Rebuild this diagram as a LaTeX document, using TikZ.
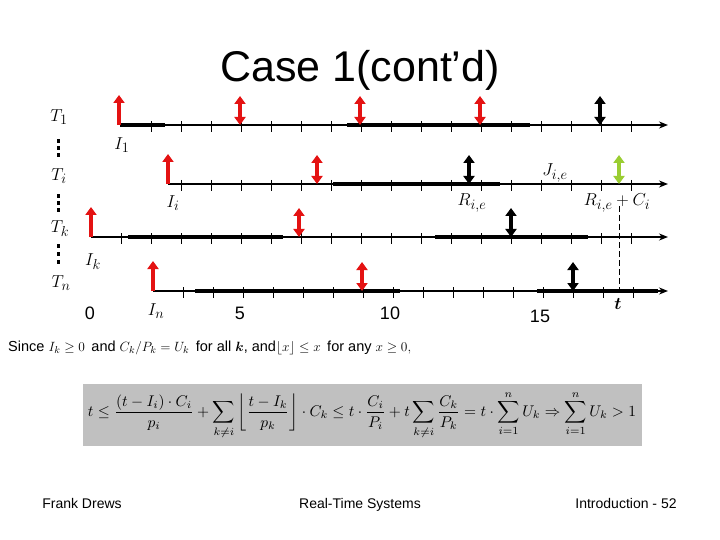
\documentclass[tikz,border=0pt]{standalone}
\usepackage{fontspec}
\setmainfont{Liberation Sans}
\usepackage{amsmath,amssymb}
\usetikzlibrary{arrows.meta}
\definecolor{relred}{RGB}{228,18,18}
\definecolor{relgreen}{RGB}{154,205,50}
\definecolor{fbox}{RGB}{192,192,192}
\begin{document}
\begin{tikzpicture}[x=1pt,y=-1pt,
  axis/.style={line width=2.3pt,-{Stealth[length=9pt,width=7pt]}},
  busy/.style={line width=3.2pt},
  tk/.style={line width=0.9pt},
  relarrow/.style={line width=3.6pt,relred,-{Triangle[length=8pt,width=11pt]}},
  dblarrow/.style={line width=3.6pt,{Triangle[length=8pt,width=11pt]}-{Triangle[length=8pt,width=11pt]}},
  lbl/.style={inner sep=0pt,font=\fontsize{19}{19}\selectfont},
  num/.style={inner sep=0pt,anchor=base,font=\fontsize{18}{18}\selectfont},
  foot/.style={inner sep=0pt,anchor=base,font=\fontsize{14}{14}\selectfont},
  vdot/.style={fill=black}
]
\useasboundingbox (0,0) rectangle (720,540);

% title
\node[inner sep=0pt,anchor=base,font=\fontsize{43}{43}\selectfont] (title) at (360,82) {Case 1(cont’d)};

% task labels
\node[lbl] (T1) at (59,117) {$T_1$};
\node[lbl] (Ti) at (59,176) {$T_i$};
\node[lbl] (Tk) at (60,229) {$T_k$};
\node[lbl] (Tn) at (61,283) {$T_n$};
\foreach \y in {141,148,155, 196,203,210, 246,254,262}
  \fill[vdot] (56.5,\y-1.6) rectangle (59.5,\y+1.6);

% timelines
\coordinate (s1) at (120,125); \coordinate (e1) at (668,125);
\coordinate (s2) at (168,184); \coordinate (e2) at (668,184);
\coordinate (s3) at (91,237);  \coordinate (e3) at (668,237);
\coordinate (s4) at (153,291); \coordinate (e4) at (668,291);

\draw[axis] (s1) -- (e1);
\draw[axis] (s2) -- (e2);
\draw[axis] (s3) -- (e3);
\draw[axis] (s4) -- (e4);

\draw[busy] (120,125) -- (165,125);
\draw[busy] (347,125) -- (530,125);
\draw[busy] (333,184) -- (500,184);
\draw[busy] (128,237) -- (283,237);
\draw[busy] (435,237) -- (588,237);
\draw[busy] (195,291) -- (400,291);
\draw[busy] (537,291) -- (658,291);

\foreach \x in {151,181,...,631} \draw[tk] (\x,121) -- (\x,132);
\foreach \x in {181,211,...,631} \draw[tk] (\x,180) -- (\x,191);
\foreach \x in {121,151,...,631} \draw[tk] (\x,233) -- (\x,244);
\foreach \x in {183,213,...,633} \draw[tk] (\x,287) -- (\x,298);

% dashed marker
\draw[dash pattern=on 6pt off 3pt,line width=0.8pt] (619,206) -- (619,294);

% release arrows
\draw[relarrow] (119,125) -- (119,95);
\draw[relarrow] (168,184) -- (168,154);
\draw[relarrow] (91,237) -- (91,207);
\draw[relarrow] (153,291) -- (153,261);

% deadline/release double arrows
\foreach \x in {240,360,480} \draw[dblarrow,relred] (\x,125) -- (\x,96);
\draw[dblarrow,black] (600,125) -- (600,96);
\draw[dblarrow,relred] (317,184) -- (317,155);
\draw[dblarrow,black] (469,184) -- (469,155);
\draw[dblarrow,relgreen] (619,184) -- (619,155);
\draw[dblarrow,relred] (299,237) -- (299,208);
\draw[dblarrow,black] (511,237) -- (511,208);
\draw[dblarrow,relred] (362,291) -- (362,262);
\draw[dblarrow,black] (573,291) -- (573,262);

% point labels
\node[lbl] (I1) at (122,145) {$I_1$};
\node[lbl] (Ii) at (173,203) {$I_i$};
\node[lbl] (Ik) at (93,262) {$I_k$};
\node[lbl] (In) at (156,311) {$I_n$};
\node[lbl] (Jie) at (555,173) {$J_{i,e}$};
\node[lbl] (Rie) at (472,203) {$R_{i,e}$};
\node[lbl] (RC) at (617,203) {$R_{i,e}+C_i$};
\node[lbl] (tt) at (618,304) {$\boldsymbol{t}$};

% axis numbers
\node[num] (n0) at (90,319) {0};
\node[num] (n5) at (240,319) {5};
\node[num] (n10) at (390,319) {10};
\node[num] (n15) at (540,322) {15};

% since line
\node[inner sep=0pt,anchor=west] (since) at (8,348) {\resizebox{403pt}{!}{\fontsize{13}{15}\selectfont Since $I_k\ge 0$\, and $C_k/P_k=U_k$\, for all $\boldsymbol{k}$, and$\lfloor x\rfloor\le x$\, for any $x\ge 0,$}};

% formula box
\fill[fbox] (83,384) rectangle (642,446);
\node[inner sep=0pt] (formula) at (362,415) {\resizebox{548pt}{!}{$\displaystyle t\le\frac{(t-I_i)\cdot C_i}{p_i}+\sum_{k\ne i}\left\lfloor\frac{t-I_k}{p_k}\right\rfloor\cdot C_k\le t\cdot\frac{C_i}{P_i}+t\sum_{k\ne i}\frac{C_k}{P_k}=t\cdot\sum_{i=1}^{n}U_k\Rightarrow\sum_{i=1}^{n}U_k>1$}};

% footer
\node[foot] (f1) at (82,508) {Frank Drews};
\node[foot] (f2) at (360,508) {Real-Time Systems};
\node[foot] (f3) at (626,508) {Introduction - 52};
\end{tikzpicture}
\end{document}
